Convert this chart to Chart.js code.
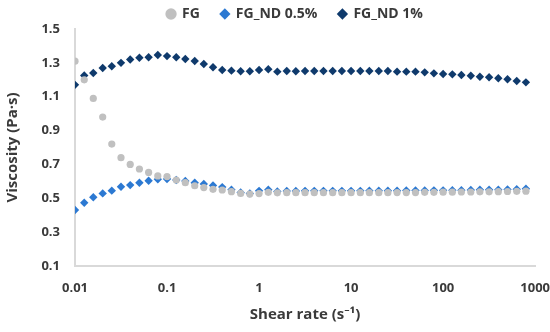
<!DOCTYPE html>
<html>
<head>
<meta charset="utf-8">
<script src="https://cdn.jsdelivr.net/npm/chart.js@4/dist/chart.umd.min.js"></script>
<style>
  html, body { margin: 0; padding: 0; background: #fff; }
  #wrap { width: 550px; height: 332px; }
</style>
</head>
<body>
<div id="wrap"><canvas id="viscChart"></canvas></div>
<script>
// shear rate (1/s), 10 points per decade
const shearRate = [
  0.01, 0.0126, 0.0158, 0.02, 0.0251, 0.0316, 0.0398, 0.0501, 0.0631, 0.0794,
  0.1, 0.126, 0.158, 0.2, 0.251, 0.316, 0.398, 0.501, 0.631, 0.794,
  1, 1.26, 1.58, 2, 2.51, 3.16, 3.98, 5.01, 6.31, 7.94,
  10, 12.6, 15.8, 20, 25.1, 31.6, 39.8, 50.1, 63.1, 79.4,
  100, 126, 158, 200, 251, 316, 398, 501, 631, 794
];

// viscosity (Pa·s)
const fg = [
  1.31, 1.20, 1.09, 0.98, 0.82, 0.74, 0.70, 0.673, 0.653, 0.632,
  0.628, 0.608, 0.592, 0.574, 0.563, 0.553, 0.549, 0.539, 0.529, 0.525,
  0.528, 0.535, 0.532, 0.533, 0.533, 0.533, 0.533, 0.533, 0.533, 0.533,
  0.533, 0.533, 0.533, 0.533, 0.533, 0.534, 0.534, 0.534, 0.535, 0.535,
  0.536, 0.536, 0.537, 0.537, 0.538, 0.538, 0.539, 0.540, 0.541, 0.542
];
const fgNd05 = [
  0.431, 0.474, 0.506, 0.529, 0.545, 0.568, 0.578, 0.592, 0.604, 0.612,
  0.614, 0.608, 0.602, 0.592, 0.585, 0.576, 0.566, 0.551, 0.534, 0.529,
  0.544, 0.551, 0.540, 0.543, 0.543, 0.544, 0.544, 0.544, 0.544, 0.544,
  0.544, 0.544, 0.545, 0.545, 0.545, 0.545, 0.546, 0.546, 0.546, 0.547,
  0.547, 0.548, 0.548, 0.549, 0.550, 0.550, 0.551, 0.552, 0.554, 0.556
];
const fgNd1 = [
  1.17, 1.225, 1.24, 1.27, 1.28, 1.30, 1.32, 1.33, 1.333, 1.346,
  1.34, 1.333, 1.323, 1.311, 1.293, 1.274, 1.258, 1.254, 1.250, 1.250,
  1.258, 1.262, 1.248, 1.252, 1.250, 1.252, 1.252, 1.252, 1.252, 1.252,
  1.252, 1.252, 1.252, 1.252, 1.252, 1.248, 1.248, 1.248, 1.244, 1.238,
  1.234, 1.232, 1.228, 1.224, 1.218, 1.215, 1.209, 1.203, 1.193, 1.185
];

const xTicks = [0.01, 0.1, 1, 10, 100, 1000];
const yTicks = [0.1, 0.3, 0.5, 0.7, 0.9, 1.1, 1.3, 1.5];

const toPts = (ys) => ys.map((y, i) => ({ x: shearRate[i], y: y }));

const txt = '#3a3a3a';
const axisCol = '#d9d9d9';
const font = '"Open Sans", "Noto Sans", sans-serif';

// legend: short band, wide item spacing, nudged right like the original
const legendTweak = {
  id: 'legendTweak',
  beforeInit(chart) {
    const lg = chart.legend;
    const fit = lg.fit;
    lg.fit = function () {
      fit.bind(lg)();
      this.height = 43;
    };
    const draw = lg.draw;
    lg.draw = function (...args) {
      chart.ctx.save();
      chart.ctx.translate(20, 0);
      draw.apply(lg, args);
      chart.ctx.restore();
    };
  }
};

// invisible tick marks push the labels off the axis without extra side padding
const hiddenTicks = (len) => ({
  display: true,
  drawOnChartArea: false,
  drawTicks: true,
  tickLength: len,
  color: 'rgba(0,0,0,0)'
});

new Chart(document.getElementById('viscChart'), {
  type: 'scatter',
  data: {
    datasets: [
      {
        label: 'FG',
        data: toPts(fg),
        pointStyle: 'circle',
        pointRadius: 3.6,
        backgroundColor: '#c0c0c0',
        borderColor: '#c0c0c0',
        borderWidth: 0
      },
      {
        label: 'FG_ND 0.5%',
        data: toPts(fgNd05),
        pointStyle: 'rectRot',
        pointRadius: 4.2,
        backgroundColor: '#2c79d2',
        borderColor: '#2c79d2',
        borderWidth: 0
      },
      {
        label: 'FG_ND 1%',
        data: toPts(fgNd1),
        pointStyle: 'rectRot',
        pointRadius: 4.2,
        backgroundColor: '#0f3a6c',
        borderColor: '#0f3a6c',
        borderWidth: 0
      }
    ]
  },
  plugins: [legendTweak],
  options: {
    responsive: true,
    maintainAspectRatio: false,
    animation: false,
    layout: { padding: { left: 0, right: 0, top: -14, bottom: 4 } },
    plugins: {
      tooltip: { enabled: false },
      legend: {
        position: 'top',
        labels: {
          usePointStyle: true,
          boxWidth: 8,
          boxHeight: 8,
          padding: 21,
          color: txt,
          font: { family: font, size: 14, weight: 'bold' }
        }
      }
    },
    scales: {
      x: {
        type: 'logarithmic',
        min: 0.01,
        max: 1000,
        afterBuildTicks: (s) => { s.ticks = xTicks.map(v => ({ value: v })); },
        afterFit: (s) => { s.height = 62; },
        grid: hiddenTicks(14),
        border: { display: true, color: axisCol, width: 2 },
        ticks: {
          color: txt,
          padding: 0,
          maxRotation: 0,
          autoSkip: false,
          font: { family: font, size: 13, weight: 'bold' },
          callback: (v) => String(v)
        },
        title: {
          display: true,
          text: 'Shear rate (s\u207B\u00B9)',
          color: txt,
          padding: { top: 6 },
          font: { family: font, size: 15, weight: 'bold' }
        }
      },
      y: {
        min: 0.1,
        max: 1.5,
        afterBuildTicks: (s) => { s.ticks = yTicks.map(v => ({ value: v })); },
        afterFit: (s) => { s.width = 75; },
        grid: hiddenTicks(15),
        border: { display: true, color: axisCol, width: 2 },
        ticks: {
          color: txt,
          padding: 0,
          font: { family: font, size: 13, weight: 'bold' },
          callback: (v) => v.toFixed(1)
        },
        title: {
          display: true,
          text: 'Viscosity (Pa\u00B7s)',
          color: txt,
          padding: { bottom: 2 },
          font: { family: font, size: 15, weight: 'bold' }
        }
      }
    }
  }
});
</script>
</body>
</html>
